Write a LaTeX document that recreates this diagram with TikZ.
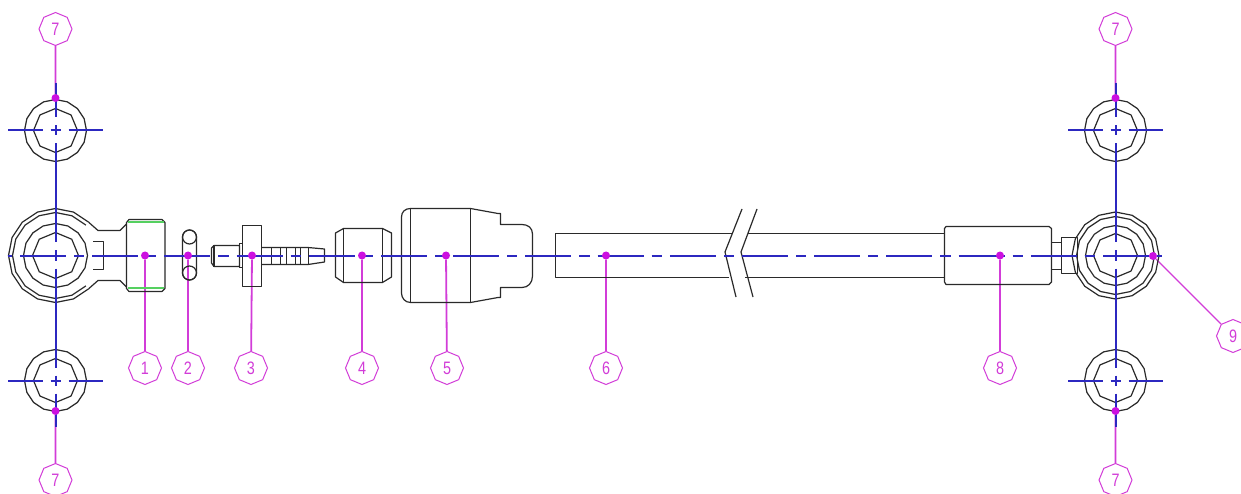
\documentclass[tikz,border=0pt]{standalone}
\usepackage{fontspec}
\setmainfont{Liberation Sans}
\newfontfamily\labfont[FakeStretch=0.8]{Liberation Sans}
\usetikzlibrary{shapes.geometric}
\pgfdeclarelayer{back}
\pgfsetlayers{back,main}
\definecolor{inkc}{HTML}{2A2A2A}
\definecolor{bluec}{HTML}{2C28C0}
\definecolor{leadc}{HTML}{D23CD8}
\definecolor{dotc}{HTML}{CC10E0}
\definecolor{greenc}{HTML}{55D060}
\tikzset{
  part/.style={draw=inkc,line width=1.2pt,line join=round},
  axisline/.style={draw=bluec,line width=2pt},
  leader/.style={draw=leadc,line width=1.8pt},
  dotmark/.style={circle,fill=dotc,inner sep=0pt,minimum size=8pt},
  balloon/.style={regular polygon,regular polygon sides=8,shape border rotate=22.5,draw=leadc,line width=1pt,
     minimum size=33pt,inner sep=0pt,text=leadc,font=\labfont\fontsize{18}{18}\selectfont},
  ringa/.style={regular polygon,regular polygon sides=16,shape border rotate=11.25,part,inner sep=0pt,minimum size=#1},
  ringb/.style={regular polygon,regular polygon sides=8,shape border rotate=22.5,part,inner sep=0pt,minimum size=#1},
}
\begin{document}
\begin{tikzpicture}[x=1pt,y=-1pt]
\useasboundingbox (0,0) rectangle (1241,494);
\clip (0,0) rectangle (1241,494);
% small eyes
\node[ringa=62pt] (ea1) at (55.5,130.5) {};
\node[ringb=44pt] (ea2) at (55.5,130.5) {};
\node[ringa=62pt] (eb1) at (55.5,380.5) {};
\node[ringb=44pt] (eb2) at (55.5,380.5) {};
\node[ringa=62pt] (ec1) at (1115.5,130.5) {};
\node[ringb=44pt] (ec2) at (1115.5,130.5) {};
\node[ringa=62pt] (ed1) at (1115.5,380.5) {};
\node[ringb=44pt] (ed2) at (1115.5,380.5) {};
% left eye
\node[ringa=64pt] (el3) at (55.5,255.5) {};
\node[ringb=46pt] (el4) at (55.5,255.5) {};
\draw[part,shift={(55.5,255.5)}] plot[samples at={45,67.5,...,315}] ({47*cos(\x)},{47*sin(\x)});
\draw[part,shift={(55.5,255.5)}] plot[samples at={45,67.5,...,315}] ({43*cos(\x)},{43*sin(\x)});
\draw[part] (88.7,222.3) -- (98,230.5) -- (120,230.5) -- (126.5,224);
\draw[part] (88.7,288.7) -- (98,280.5) -- (120,280.5) -- (126.5,287);
\draw[part] (93,241.5) -- (103.5,241.5) -- (103.5,269.5) -- (93,269.5);
% part 1
\draw[part] (129,219.5) -- (162,219.5) -- (165,222.5) -- (165,288.5) -- (162,291.5) -- (129,291.5) -- (126.5,288.5) -- (126.5,222.5) -- cycle;
\draw[draw=greenc,line width=2pt] (128,222.5) -- (164,222.5) (128,287.5) -- (164,287.5);
% part 2
\draw[part,rounded corners=7pt] (182.5,230) rectangle (196.5,280);
\node[circle,part,inner sep=0pt,minimum size=14pt] (p2a) at (189.5,237) {};
\node[circle,part,inner sep=0pt,minimum size=14pt] (p2b) at (189.5,273) {};
% part 3
\draw[part] (214,245.5) -- (239.5,245.5) -- (239.5,266.5) -- (214,266.5) -- (211.5,263) -- (211.5,248) -- cycle;
\draw[part] (214,245.5) -- (214,266.5);
\draw[part] (239.5,243.5) -- (242.5,243.5) (239.5,267.5) -- (242.5,267.5) (239.5,243.5) -- (239.5,267.5);
\draw[part] (242.5,225.5) rectangle (261.5,286.5);
\draw[part] (261.5,247.5) -- (308,247.5) -- (324.5,249) -- (324.5,262) -- (308,264.5) -- (261.5,264.5);
\foreach \bx in {271.5,280.5,286.5,295.5,300.5,308.5} \draw[part] (\bx,247.5) -- (\bx,264.5);
% part 4
\draw[part] (343.5,228.5) -- (382.5,228.5) -- (391.5,233) -- (391.5,277) -- (382.5,282.5) -- (343.5,282.5) -- (335.5,277) -- (335.5,233) -- cycle;
\draw[part] (343.5,228.5) -- (343.5,282.5) (382.5,228.5) -- (382.5,282.5);
% part 5
\draw[part] (410.5,208.5) -- (470.5,208.5) -- (498,213.5) -- (500.5,213.5) -- (500.5,224.5) -- (522,224.5) .. controls (528,224.5) and (532.5,228) .. (532.5,234) -- (532.5,276) .. controls (532.5,283) and (528,287.5) .. (522,287.5) -- (500.5,287.5) -- (500.5,297.5) -- (498,297.5) -- (470.5,302.5) -- (410.5,302.5) .. controls (405,302.5) and (401.5,298) .. (401.5,293) -- (401.5,217) .. controls (401.5,212) and (405,208.5) .. (410.5,208.5) -- cycle;
\draw[part] (410.5,208.5) -- (410.5,302.5) (470.5,208.5) -- (470.5,302.5);
% part 6 with break
\draw[part] (732,233.5) -- (555.5,233.5) -- (555.5,277.5) -- (729,277.5);
\draw[part] (748,233.5) -- (944.5,233.5) (745,277.5) -- (944.5,277.5);
\draw[part] (742,209) -- (725,252) -- (736,297);
\draw[part] (757,209) -- (741,252) -- (753,297);
% part 8
\draw[part] (946,226.5) -- (1049,226.5) -- (1051.5,228.5) -- (1051.5,282) -- (1049,284.5) -- (946,284.5) -- (944.5,282) -- (944.5,228.5) -- cycle;
\draw[part] (1051.5,242.5) -- (1061.5,242.5) (1051.5,269.5) -- (1061.5,269.5);
\draw[part] (1061.5,237.5) rectangle (1077.5,273.5);
% right eye
\node[ringa=87pt] (er1) at (1115.5,255.5) {};
\node[ringa=78pt] (er2) at (1115.5,255.5) {};
\node[ringa=60pt] (er3) at (1115.5,255.5) {};
\node[ringb=44pt] (er4) at (1115.5,255.5) {};
% main axis, as separate dashes
\draw[axisline] (8,255.5) -- (12,255.5);
\foreach \k in {0,...,14}{
  \pgfmathsetmacro{\xa}{20+72.2*\k}
  \pgfmathsetmacro{\xb}{\xa+46}
  \pgfmathsetmacro{\xc}{\xa+54}
  \pgfmathsetmacro{\xd}{\xa+64.2}
  \draw[axisline] (\xa,255.5) -- (\xb,255.5) (\xc,255.5) -- (\xd,255.5);
}
\draw[axisline] (1103,255.5) -- (1149,255.5) (1157,255.5) -- (1162,255.5);
% vertical axes and cross lines
\foreach \vx in {55.5,1115.5}{
  \draw[axisline] (\vx,83) -- (\vx,117)
    (\vx,125.5) -- (\vx,135.5) (\vx,143.5) -- (\vx,242.5)
    (\vx,250.5) -- (\vx,260.5) (\vx,268.5) -- (\vx,367.5)
    (\vx,375.5) -- (\vx,385.5) (\vx,393.5) -- (\vx,427);
  \foreach \vy in {130.5,380.5}{
    \draw[axisline] (\vx-47.5,\vy) -- (\vx-13,\vy)
      (\vx-5,\vy) -- (\vx+5,\vy) (\vx+13,\vy) -- (\vx+47.5,\vy);
  }
}
% dots
\node[dotmark] (d1) at (145,255.5) {};
\node[dotmark] (d2) at (188,255.5) {};
\node[dotmark] (d3) at (252,255.5) {};
\node[dotmark] (d4) at (362,255.5) {};
\node[dotmark] (d5) at (446,255.5) {};
\node[dotmark] (d6) at (606,255.5) {};
\node[dotmark] (d8) at (1000,255.5) {};
\node[dotmark] (d9) at (1153,256) {};
\node[dotmark] (d7a) at (55.5,98) {};
\node[dotmark] (d7b) at (55.5,411) {};
\node[dotmark] (d7c) at (1115.5,98) {};
\node[dotmark] (d7d) at (1115.5,411) {};
% balloons
\node[balloon] (l1) at (145,368) {1};
\node[balloon] (l2) at (188,368) {2};
\node[balloon] (l3) at (251,368) {3};
\node[balloon] (l4) at (362,368) {4};
\node[balloon] (l5) at (447,368) {5};
\node[balloon] (l6) at (606,368) {6};
\node[balloon] (l8) at (1000,368) {8};
\node[balloon] (l9) at (1233,336) {9};
\node[balloon] (l7a) at (55.5,29) {7};
\node[balloon] (l7b) at (55.5,480) {7};
\node[balloon] (l7c) at (1115.5,29) {7};
\node[balloon] (l7d) at (1115.5,480) {7};
\begin{pgfonlayer}{back}
\fill[white] (0,0) rectangle (1241,494);
\foreach \a/\b in {d1/l1,d2/l2,d3/l3,d4/l4,d5/l5,d6/l6,d8/l8,d7a/l7a,d7b/l7b,d7c/l7c,d7d/l7d}
  \draw[leader] (\a) -- (\b);
\draw[draw=leadc,line width=1.1pt] (d9) -- (l9);
\end{pgfonlayer}
\end{tikzpicture}
\end{document}
